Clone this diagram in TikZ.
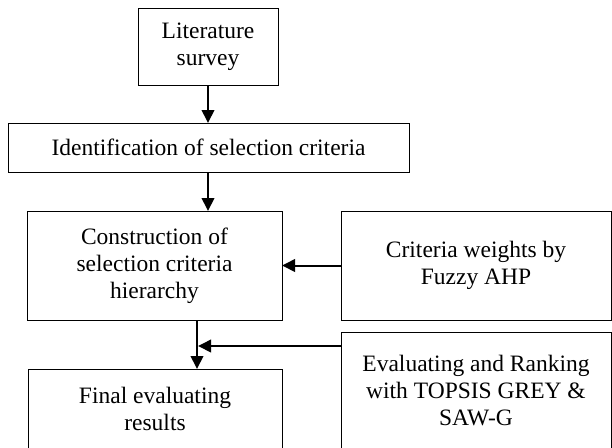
\documentclass[tikz,border=0pt]{standalone}
\usepackage{fontspec}
\setmainfont{Liberation Serif}
\usetikzlibrary{arrows.meta,calc}
\begin{document}
\begin{tikzpicture}[
                x=1pt,y=-1pt,
                every node/.append style={black},
                stagebox/.style={draw,line width=1pt,inner sep=0pt,outer sep=0pt,align=center,
                    font=\fontsize{23.5}{27}\selectfont},
                flowarrow/.style={line width=2pt,-{Triangle[length=13pt,width=12.5pt]}}
            ]
                \useasboundingbox (0,0) rectangle (612,447);
                \node[stagebox,minimum width=140pt,minimum height=77pt] (survey) at (208,46.5) {Literature\\survey};
                \node[stagebox,minimum width=401pt,minimum height=49pt] (ident) at (208.5,147.5) {Identification of selection criteria};
                \node[stagebox,minimum width=255pt,minimum height=109pt] (hier) at (154.5,265.5) {Construction of\\selection criteria\\hierarchy};
                \node[stagebox,minimum width=270pt,minimum height=109pt] (weights) at (476,265.5) {Criteria weights by\\Fuzzy AHP};
                \node[stagebox,minimum width=270pt,minimum height=118pt] (ranking) at (476,391) {Evaluating and Ranking\\with TOPSIS GREY \&\\SAW-G};
                \node[stagebox,minimum width=254pt,minimum height=79pt] (final) at (155,408.5) {Final evaluating\\results};
                \coordinate (drop) at ($(hier.south)+(42.5,0)$);
                \coordinate (join) at ($(ranking.north west)+(0,14)$);
                \draw[flowarrow] (survey.south) -- (survey.south |- ident.north);
                \draw[flowarrow] (survey.south |- ident.south) -- (survey.south |- hier.north);
                \draw[flowarrow] (weights.west) -- (weights.west -| hier.east);
                \draw[flowarrow] (drop) -- (drop |- final.north);
                \draw[flowarrow] (join) -- ($(join -| drop)+(1,0)$);
            \end{tikzpicture}
\end{document}
